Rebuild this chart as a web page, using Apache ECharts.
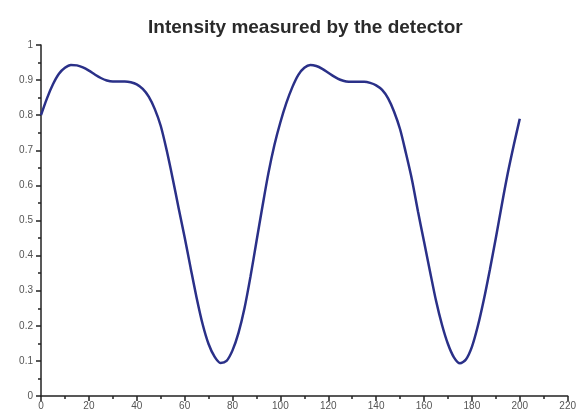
<!DOCTYPE html>
<html>
<head>
<meta charset="utf-8">
<script src="https://cdn.jsdelivr.net/npm/echarts@6/dist/echarts.min.js"></script>
<style>html,body{margin:0;padding:0;background:#fff;}#c{width:579px;height:414px;}</style>
</head>
<body>
<div id="c"></div>
<script>
var titleText = 'Intensity measured by the detector';
var xValues = [0,2.5,5,7.5,10,12.5,15,17.5,20,22.5,25,27.5,30,32.5,35,37.5,40,42.5,45,47.5,50,
               52.5,55,57.5,60,62.5,65,67.5,70,72.5,75,77.5,80,82.5,85,87.5,90,92.5,95,97.5,100,
               102.5,105,107.5,110,112.5,115,117.5,120,122.5,125,127.5,130,132.5,135,137.5,140,142.5,145,147.5,150,
               152.5,155,157.5,160,162.5,165,167.5,170,172.5,175,177.5,180,182.5,185,187.5,190,192.5,195,197.5,200];
var intensity = [0.800,0.848,0.888,0.918,0.935,0.943,0.942,0.936,0.927,0.916,0.906,0.899,0.896,0.896,0.896,0.894,0.888,0.875,0.853,0.818,0.770,
                 0.700,0.620,0.535,0.452,0.365,0.280,0.205,0.148,0.112,0.094,0.100,0.130,0.180,0.250,0.340,0.440,0.540,0.635,0.715,0.780,
                 0.835,0.880,0.915,0.935,0.943,0.940,0.932,0.921,0.910,0.901,0.896,0.895,0.895,0.895,0.892,0.885,0.872,0.848,0.810,0.760,
                 0.690,0.615,0.525,0.440,0.355,0.272,0.203,0.148,0.110,0.093,0.104,0.140,0.200,0.275,0.360,0.450,0.545,0.635,0.715,0.790];
var data = xValues.map(function(x,i){return [x, intensity[i]];});

var chart = echarts.init(document.getElementById('c'), null, {renderer:'canvas'});
var axisCommon = {
  axisLine:{show:true, onZero:false, lineStyle:{color:'#222', width:1.5}},
  axisTick:{show:true, inside:false, length:5, lineStyle:{color:'#222', width:1.5}},
  minorTick:{show:true, splitNumber:2, length:3, lineStyle:{color:'#222', width:1.5}},
  splitLine:{show:false},
  axisLabel:{color:'#555', fontSize:10, fontFamily:'Liberation Sans, Arial, sans-serif'}
};
chart.setOption({
  animation:false,
  backgroundColor:'#fff',
  title:{text:titleText, left:143, top:13, textStyle:{fontFamily:'Liberation Sans, Arial, sans-serif', fontWeight:'bold', fontSize:19, color:'#2a2a2a'}},
  grid:{left:41, right:10, top:45, bottom:18, containLabel:false},
  xAxis:Object.assign({type:'value', min:0, max:220, interval:20}, axisCommon, {axisLabel:Object.assign({}, axisCommon.axisLabel, {margin:5})}),
  yAxis:Object.assign({type:'value', min:0, max:1, interval:0.1}, axisCommon, {axisLabel:Object.assign({}, axisCommon.axisLabel, {margin:8})}),
  series:[{type:'line', data:data, smooth:0.3, showSymbol:false, lineStyle:{color:'#2a3088', width:2.5}}]
});
</script>
</body>
</html>
